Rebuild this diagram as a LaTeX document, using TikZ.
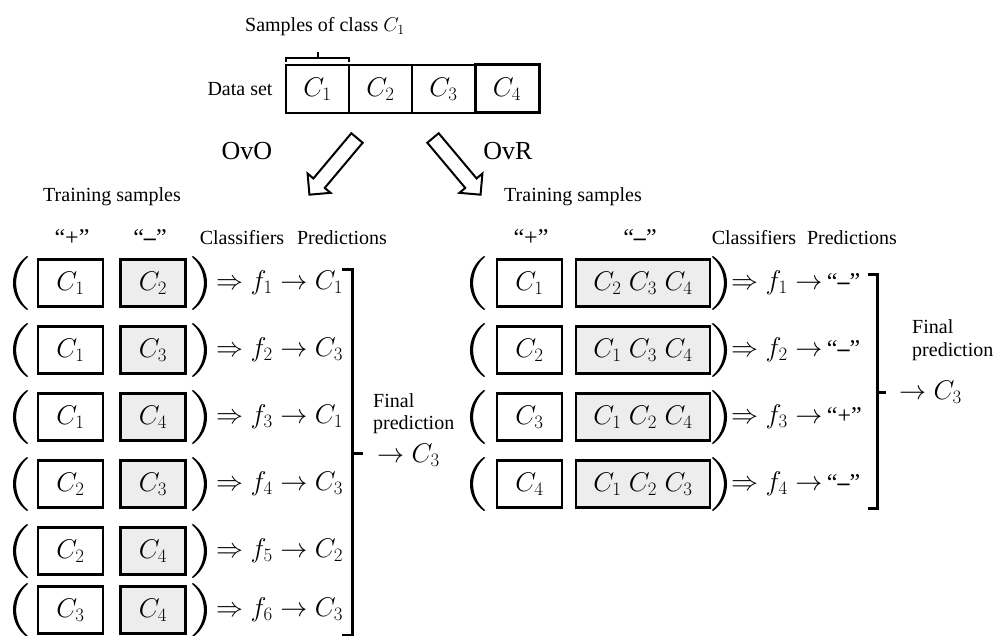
\RequirePackage{fix-cm}
\documentclass[tikz,border=0pt]{standalone}
\usepackage{fontspec}
\setmainfont{Liberation Serif}
\begin{document}
\begin{tikzpicture}[x=1pt,y=-1pt,
  txt/.style={font=\fontsize{20}{24}\selectfont, inner sep=0pt},
  big/.style={font=\fontsize{27}{30}\selectfont, inner sep=0pt},
  quo/.style={font=\fontsize{24}{28}\selectfont, inner sep=0pt},
  cell/.style={draw, line width=1.8pt, minimum width=63pt, minimum height=48pt,
    inner sep=0pt, font=\fontsize{27}{30}\selectfont},
  posbox/.style={draw, line width=2.4pt, minimum width=65pt, minimum height=47pt,
    inner sep=0pt, font=\fontsize{27}{30}\selectfont},
  negbox/.style={posbox, fill=black!7},
  bracket/.style={line width=3pt},
  hollow/.style={draw, line width=2pt, line join=miter, fill=white},
  % tall round brackets drawn as thin crescents
  lpar/.pic={\fill (7,-27) .. controls (-11.7,-14) and (-11.7,14) .. (7,27)
               -- (8.2,26.2) .. controls (-7.9,13) and (-7.9,-13) .. (8.2,-26.2) -- cycle;},
  rpar/.pic={\fill (-7,-27) .. controls (11.7,-14) and (11.7,14) .. (-7,27)
               -- (-8.2,26.2) .. controls (7.9,13) and (7.9,-13) .. (-8.2,-26.2) -- cycle;}]
\useasboundingbox (0,0) rectangle (996,636);

% ---- data set ----
\node[txt] (samp) at (325,27) {Samples of class $C_1$};
\node[txt] (ds) at (240,89) {Data set};
\node[cell] (d1) at (317.5,89) {$C_1$};
\node[cell] (d2) at (380.5,89) {$C_2$};
\node[cell] (d3) at (443.5,89) {$C_3$};
\node[cell, line width=3pt, minimum width=64pt] (d4) at (507,89) {$C_4$};
\draw[line width=1.3pt] (286,62) -- (286,58) -- (349,58) -- (349,62);
\draw[line width=1.3pt] (318,58) -- (318,52);

% ---- split arrows ----
\node[font=\fontsize{26}{30}\selectfont, inner sep=0pt] (ovo) at (247,151) {OvO};
\node[font=\fontsize{26}{30}\selectfont, inner sep=0pt] (ovr) at (508,151) {OvR};
\coordinate (ovoTail) at (357,138);
\coordinate (ovrTail) at (433,138);
\draw[hollow, shift={(ovoTail)}, rotate=-130]
  (0,7.4) -- (59,7.4) -- (59,15) -- (74,0) -- (59,-15) -- (59,-7.4) -- (0,-7.4) -- cycle;
\draw[hollow, shift={(ovrTail)}, rotate=-50]
  (0,7.4) -- (59,7.4) -- (59,15) -- (74,0) -- (59,-15) -- (59,-7.4) -- (0,-7.4) -- cycle;

% ---- one-vs-one ----
\node[txt] (ltrain) at (112,197) {Training samples};
\node[quo] (lplus) at (72,238) {“+”};
\node[quo] (lminus) at (150,238) {“\textbf{–}”};
\node[txt] (lclf) at (242,238) {Classifiers};
\node[txt] (lpred) at (342,238) {Predictions};

\foreach \i/\a/\b/\p/\y in {1/1/2/1/283, 2/1/3/3/350, 3/1/4/1/417,
                            4/2/3/3/484, 5/2/4/2/551, 6/3/4/3/610}{
  \pic (lo\i) at (20,\y) {lpar};
  \node[posbox] (lp\i) at (70.5,\y) {$C_\a$};
  \node[negbox] (ln\i) at (153,\y) {$C_\b$};
  \pic (lc\i) at (200,\y) {rpar};
  \node[big, anchor=west] (lr\i) at (216,\y) {$\Rightarrow f_\i \to C_\p$};
}
\draw[bracket] (342,270) -- (352,270) -- (352,635) -- (342,635);
\draw[bracket] (352,453) -- (363,453);
\node[txt, anchor=west] (lfin1) at (373,401) {Final};
\node[txt, anchor=west] (lfin2) at (373,425) {prediction};
\node[big, anchor=west] (lfin3) at (377,455) {$\to C_3$};

% ---- one-vs-rest ----
\node[txt] (rtrain) at (573,197) {Training samples};
\node[quo] (rplus) at (531,238) {“+”};
\node[quo] (rminus) at (640,238) {“\textbf{–}”};
\node[txt] (rclf) at (754,238) {Classifiers};
\node[txt] (rpred) at (852,238) {Predictions};

\foreach \i/\a/\n/\q/\y in {1/1/{C_2\;C_3\;C_4}/\textbf{–}/283, 2/2/{C_1\;C_3\;C_4}/\textbf{–}/350,
                            3/3/{C_1\;C_2\;C_4}/+/417, 4/4/{C_1\;C_2\;C_3}/\textbf{–}/484}{
  \pic (ro\i) at (477,\y) {lpar};
  \node[posbox] (rp\i) at (529.5,\y) {$C_\a$};
  \node[negbox, minimum width=134pt] (rn\i) at (643,\y) {$\n$};
  \pic (rc\i) at (720,\y) {rpar};
  \node[big, anchor=west] (rr\i) at (731,\y) {$\Rightarrow f_\i \to$\,{\fontsize{24}{28}\selectfont “\q”}};
}
\draw[bracket] (868,275) -- (877,275) -- (877,508) -- (868,508);
\draw[bracket] (877,392) -- (886,392);
\node[txt, anchor=west] (rfin1) at (912,327) {Final};
\node[txt, anchor=west] (rfin2) at (912,352) {prediction};
\node[big, anchor=west] (rfin3) at (899,392) {$\to C_3$};
\end{tikzpicture}
\end{document}
